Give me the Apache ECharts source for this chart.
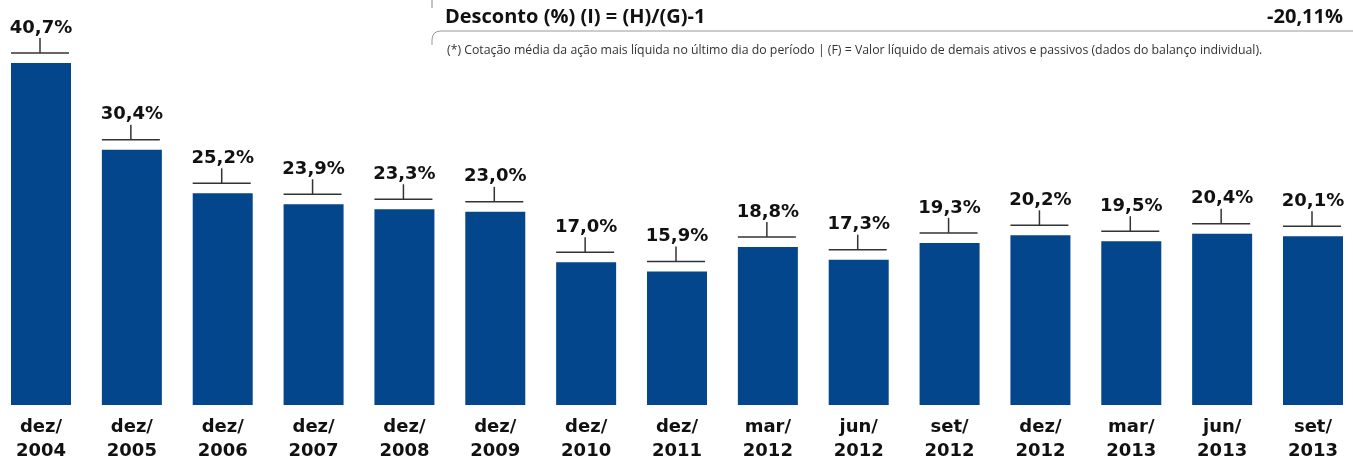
<!DOCTYPE html>
<html>
<head>
<meta charset="utf-8">
<script src="https://cdn.jsdelivr.net/npm/echarts@6/dist/echarts.min.js"></script>
<style>
  html, body { margin: 0; padding: 0; background: #fff; }
  #chart { width: 1353px; height: 459px; }
</style>
</head>
<body>
<div id="chart"></div>
<script>
// categorias (mês / ano)
var categories = ["dez/\n2004", "dez/\n2005", "dez/\n2006", "dez/\n2007", "dez/\n2008",
  "dez/\n2009", "dez/\n2010", "dez/\n2011", "mar/\n2012", "jun/\n2012",
  "set/\n2012", "dez/\n2012", "mar/\n2013", "jun/\n2013", "set/\n2013"];
// desconto (%)
var discount = [40.7, 30.4, 25.2, 23.9, 23.3, 23.0, 17.0, 15.9, 18.8, 17.3, 19.3, 20.2, 19.5, 20.4, 20.1];

var tableLabel = "Desconto (%) (I) = (H)/(G)-1";
var tableValue = "-20,11%";
var footnote = "(*) Cotação média da ação mais líquida no último dia do período | (F) = Valor líquido de demais ativos e passivos (dados do balanço individual).";

var narrow = '"Open Sans", sans-serif';

var myChart = echarts.init(document.getElementById("chart"));

function fmt(v) {
  return v.toFixed(1).replace(".", ",") + "%";
}

var option = {
  animation: false,
  grid: { left: 41, right: 40, top: 27, bottom: 54, outerBoundsMode: "none", containLabel: false },
  xAxis: {
    type: "category",
    data: categories,
    boundaryGap: false,
    axisLine: { show: false },
    axisTick: { show: false },
    axisLabel: {
      interval: 0,
      margin: 10,
      color: "#111",
      fontFamily: "DejaVu Sans",
      fontWeight: "bold",
      fontSize: 18,
      lineHeight: 24
    }
  },
  yAxis: {
    type: "value",
    min: 0,
    max: 45,
    show: false
  },
  series: [
    {
      type: "bar",
      data: discount,
      barWidth: 60,
      itemStyle: { color: "#04468b" },
      silent: true
    },
    {
      // colchete + rótulo acima de cada barra
      type: "custom",
      data: discount.map(function (v, i) { return [i, v]; }),
      silent: true,
      renderItem: function (params, api) {
        var p = api.coord([api.value(0), api.value(1)]);
        var x = p[0];
        var y = p[1] - 10;
        return {
          type: "group",
          children: [
            { type: "line", shape: { x1: x - 30, y1: y, x2: x + 28, y2: y },
              style: { stroke: "#333", lineWidth: 1.5 } },
            { type: "line", shape: { x1: x - 1, y1: y - 15, x2: x - 1, y2: y },
              style: { stroke: "#333", lineWidth: 1.5 } },
            { type: "text", x: x, y: y - 16,
              style: { text: fmt(api.value(1)), textAlign: "center", textVerticalAlign: "bottom",
                fill: "#111", font: "bold 18px 'DejaVu Sans'" } }
          ]
        };
      },
      encode: { x: 0, y: 1 }
    }
  ],
  graphic: [
    { type: "line", shape: { x1: 432, y1: 0, x2: 432, y2: 8 }, style: { stroke: "#888", lineWidth: 1 } },
    { type: "text", x: 445, y: 7,
      style: { text: tableLabel, fill: "#111", font: "bold 20px " + narrow } },
    { type: "text", x: 1343, y: 7,
      style: { text: tableValue, fill: "#111", textAlign: "right", font: "bold 20px " + narrow } },
    { type: "line", shape: { x1: 441, y1: 31, x2: 1353, y2: 31 }, style: { stroke: "#999", lineWidth: 1 } },
    { type: "bezierCurve", shape: { x1: 441, y1: 31, cpx1: 432, cpy1: 31, x2: 432, y2: 40 },
      style: { stroke: "#999", fill: null, lineWidth: 1 } },
    { type: "line", shape: { x1: 432, y1: 40, x2: 432, y2: 45 }, style: { stroke: "#999", lineWidth: 1 } },
    { type: "text", x: 447, y: 44,
      style: { text: footnote, fill: "#333", font: "12.3px " + narrow } }
  ]
};

myChart.setOption(option);
window.addEventListener("resize", function () { myChart.resize(); });
</script>
</body>
</html>
